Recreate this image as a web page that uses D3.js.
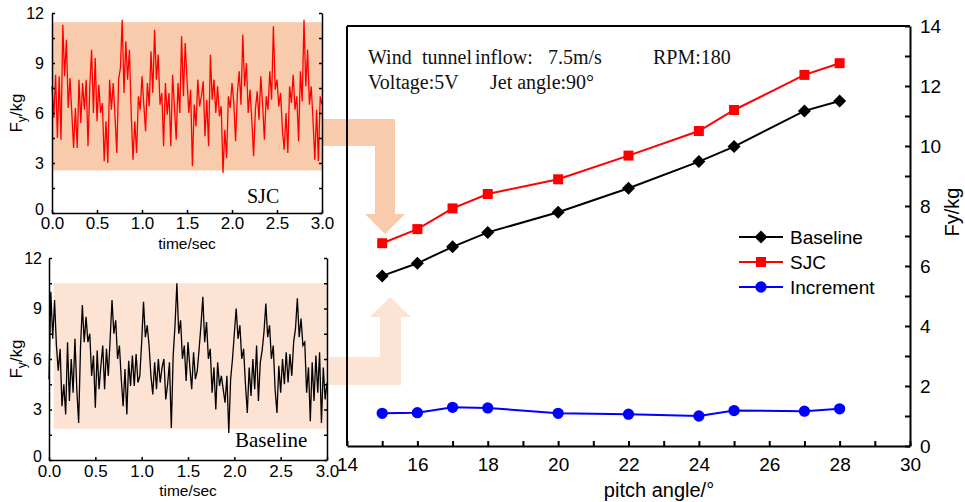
<!DOCTYPE html>
<html>
<head>
<meta charset="utf-8">
<script src="https://cdn.jsdelivr.net/npm/d3@7"></script>
<style>
  body { margin: 0; background: #fff; }
  svg { display: block; }
</style>
</head>
<body>
<div id="container"></div>
<script>
// main chart: lift force vs pitch angle
const pitchAngles = [15, 16, 17, 18, 20, 22, 24, 25, 27, 28];
const baselineFy = [5.67, 6.09, 6.64, 7.12, 7.79, 8.59, 9.48, 9.98, 11.17, 11.5];
const sjcFy = [6.76, 7.23, 7.92, 8.4, 8.89, 9.68, 10.5, 11.2, 12.37, 12.76];
const incrementFy = [1.09, 1.11, 1.29, 1.27, 1.09, 1.06, 1.0, 1.18, 1.16, 1.24];

const pitchTickLabels = [14, 16, 18, 20, 22, 24, 26, 28, 30];
const fyTickLabels = [0, 2, 4, 6, 8, 10, 12, 14];

// inset time series (sampled every 0.02 s, 0..3 s)
const timeStep = 0.02;
const sjcSignal = [7.6, 5.7, 8.3, 4.5, 8.2, 4.4, 11.3, 8.2, 10.4, 6.3,
  8.1, 6.0, 3.9, 6.3, 3.9, 8.0, 5.4, 7.8, 6.2, 8.0,
  4.0, 7.6, 9.8, 6.0, 9.3, 5.5, 7.7, 6.0, 6.6, 3.1,
  5.5, 3.0, 8.0, 6.2, 7.8, 5.8, 3.6, 8.0, 8.7, 11.6,
  7.2, 10.3, 8.0, 9.8, 6.0, 3.2, 5.5, 3.6, 7.0, 6.2,
  8.2, 6.5, 4.9, 7.8, 6.4, 9.7, 7.2, 11.0, 8.0, 9.5,
  6.5, 7.2, 4.0, 7.8, 5.9, 7.2, 4.0, 8.3, 6.4, 4.4,
  7.8, 6.0, 10.6, 7.0, 10.2, 8.0, 6.0, 7.4, 2.8, 6.5,
  5.2, 8.0, 6.4, 7.0, 7.9, 4.6, 6.8, 4.0, 9.5, 6.8,
  8.0, 6.0, 7.6, 5.8, 6.4, 2.4, 5.0, 3.3, 7.0, 6.3,
  7.8, 6.6, 4.3, 7.2, 8.5, 6.5, 10.7, 7.6, 9.0, 6.0,
  7.4, 5.6, 3.4, 6.2, 7.3, 5.6, 8.2, 6.5, 4.4, 7.0,
  6.2, 8.5, 6.8, 11.2, 7.4, 8.0, 6.4, 7.2, 5.0, 3.8,
  6.0, 3.6, 7.6, 6.6, 8.3, 6.2, 7.0, 4.3, 8.5, 6.7,
  11.6, 7.6, 9.8, 6.5, 7.6, 5.6, 3.2, 6.2, 3.1, 7.0,
  6.5];
const baselineSignal = [4.8, 10.0, 7.2, 9.5, 6.8, 5.3, 6.6, 3.2, 4.5, 2.7,
  7.0, 3.5, 6.0, 4.0, 7.2, 4.2, 2.2, 6.7, 9.2, 7.0,
  8.5, 7.0, 7.5, 5.0, 6.2, 3.1, 6.5, 4.2, 5.6, 6.8,
  4.2, 6.6, 5.0, 7.2, 9.5, 7.5, 8.3, 6.0, 6.8, 4.8,
  3.2, 5.4, 2.7, 5.9, 4.4, 6.2, 4.4, 6.3, 4.6, 5.0,
  7.0, 9.4, 7.3, 8.0, 6.8, 5.0, 3.9, 5.8, 4.2, 6.0,
  4.6, 5.5, 6.0, 3.6, 4.5, 5.8, 1.9, 6.2, 8.0, 10.5,
  7.5, 8.3, 6.0, 6.8, 4.7, 7.0, 5.5, 4.2, 6.4, 4.8,
  5.3, 6.6, 8.0, 9.7, 7.0, 8.2, 6.0, 6.6, 4.0, 5.5,
  3.0, 5.8, 4.4, 5.0, 4.2, 3.4, 5.0, 1.6, 4.8, 6.0,
  7.5, 9.0, 7.2, 8.0, 6.0, 6.6, 4.5, 2.8, 5.5, 3.8,
  6.0, 4.2, 6.8, 3.5, 5.8, 6.5, 7.6, 9.3, 7.3, 8.0,
  6.0, 6.8, 4.2, 2.8, 5.6, 4.0, 6.0, 4.5, 6.4, 4.6,
  6.3, 5.0, 7.0, 7.8, 9.6, 7.3, 8.4, 6.8, 7.0, 4.0,
  5.5, 2.3, 5.8, 3.5, 6.2, 4.0, 6.4, 2.2, 5.5, 3.6,
  4.6];
// fluctuation range shaded behind each signal
const sjcBand = [2.55, 11.45];
const baselineBand = [1.85, 10.5];
const timeTickLabels = [0, 0.5, 1, 1.5, 2, 2.5, 3];
const insetFyTickLabels = [0, 3, 6, 9, 12];

const SANS = "'Liberation Sans', Arial, sans-serif";
const SERIF = "'Liberation Serif', 'Times New Roman', serif";

const svg = d3.select("#container").append("svg")
  .attr("width", 965)
  .attr("height", 502);

function styleAxis(g, fontSize, width) {
  g.attr("font-family", SANS).attr("font-size", fontSize);
  g.selectAll("path.domain").attr("stroke", "#000").attr("stroke-width", width);
  g.selectAll(".tick line").attr("stroke", "#000").attr("stroke-width", width);
  g.selectAll(".tick text").attr("fill", "#000");
}

function drawArrows() {
  // arrow from SJC inset into the chart (pointing down)
  svg.append("path")
    .attr("d", "M323,119 L395,119 L395,214 L405,214 L385,234 L365,214 L375,214 L375,146 L323,146 Z")
    .attr("fill", "#f7cbab");
  // arrow from Baseline inset (pointing up)
  svg.append("path")
    .attr("d", "M329,357 L380,357 L380,317 L370,317 L390,297 L411,317 L401,317 L401,385 L329,385 Z")
    .attr("fill", "#fce3d4");
}

function drawInset(opt) {
  const x = d3.scaleLinear().domain([0, 3]).range([opt.left, opt.right]);
  const y = d3.scaleLinear().domain([0, 12]).range([opt.bottom, opt.top]);

  svg.append("rect")
    .attr("x", x(opt.bandStart))
    .attr("y", y(opt.band[1]))
    .attr("width", x(3) + 1 - x(opt.bandStart))
    .attr("height", y(opt.band[0]) - y(opt.band[1]))
    .attr("fill", opt.bandColor);

  const line = d3.line()
    .x((d, i) => x(i * timeStep))
    .y(d => y(d));

  svg.append("path")
    .datum(opt.signal)
    .attr("d", line)
    .attr("fill", "none")
    .attr("stroke", opt.color)
    .attr("stroke-width", 1.3);

  const yTicks = d3.range(0, 12.01, 1.5);
  const left = svg.append("g")
    .attr("transform", `translate(${opt.left},0)`)
    .call(d3.axisLeft(y).tickValues(yTicks).tickSize(-3).tickSizeOuter(0).tickPadding(opt.yPad)
      .tickFormat(d => insetFyTickLabels.includes(d) ? d : ""));
  styleAxis(left, 16, 1.5);
  // lift the "0" label a little so it clears the time labels
  left.selectAll(".tick text").filter(d => d === 0).attr("dy", "0.1em");

  const right = svg.append("g")
    .attr("transform", `translate(${opt.right},0)`)
    .call(d3.axisRight(y).tickValues(yTicks).tickSize(-3).tickSizeOuter(0).tickFormat(""));
  styleAxis(right, 16, 1.5);

  const bottom = svg.append("g")
    .attr("transform", `translate(0,${opt.bottom})`)
    .call(d3.axisBottom(x).tickValues(timeTickLabels).tickSize(-3).tickSizeOuter(0).tickPadding(opt.xPad)
      .tickFormat(d3.format(".1f")));
  styleAxis(bottom, 17, 1.5);

  svg.append("text")
    .attr("x", (opt.left + opt.right) / 2)
    .attr("y", opt.bottom + 36)
    .attr("text-anchor", "middle")
    .attr("font-family", SANS)
    .attr("font-size", 15.5)
    .text("time/sec");

  const yl = svg.append("text")
    .attr("transform", `translate(${opt.yLabelX},${(opt.top + opt.bottom) / 2}) rotate(-90)`)
    .attr("text-anchor", "middle")
    .attr("font-family", SANS)
    .attr("font-size", 17);
  yl.append("tspan").text("F");
  yl.append("tspan").attr("font-size", 12).attr("dy", 4).text("y");
  yl.append("tspan").attr("dy", -4).text("/kg");

  svg.append("text")
    .attr("x", opt.labelX)
    .attr("y", opt.labelY)
    .attr("font-family", SERIF)
    .attr("font-size", opt.labelSize)
    .text(opt.label);
}

function drawMain() {
  const x = d3.scaleLinear().domain([14, 30]).range([347, 910]);
  const y = d3.scaleLinear().domain([0, 14]).range([446, 26]);

  // left and top frame lines
  svg.append("line")
    .attr("x1", x(14)).attr("x2", x(14))
    .attr("y1", y(0)).attr("y2", y(14))
    .attr("stroke", "#000").attr("stroke-width", 2);
  svg.append("line")
    .attr("x1", x(14)).attr("x2", x(30))
    .attr("y1", y(14)).attr("y2", y(14))
    .attr("stroke", "#000").attr("stroke-width", 2);

  const xAxis = svg.append("g")
    .attr("transform", `translate(0,${y(0)})`)
    .call(d3.axisBottom(x).tickValues(d3.range(14, 31)).tickSize(-5).tickSizeOuter(0).tickPadding(12)
      .tickFormat(d => pitchTickLabels.includes(d) ? d : ""));
  styleAxis(xAxis, 19, 2);

  const yAxis = svg.append("g")
    .attr("transform", `translate(${x(30)},0)`)
    .call(d3.axisRight(y).tickValues(d3.range(0, 15)).tickSize(-5).tickSizeOuter(0).tickPadding(10)
      .tickFormat(d => fyTickLabels.includes(d) ? d : ""));
  styleAxis(yAxis, 19, 2);

  svg.append("text")
    .attr("x", 659)
    .attr("y", 497)
    .attr("text-anchor", "middle")
    .attr("font-family", SANS)
    .attr("font-size", 20)
    .text("pitch angle/°");

  svg.append("text")
    .attr("transform", "translate(952,212) rotate(-90)")
    .attr("text-anchor", "middle")
    .attr("dy", "0.35em")
    .attr("font-family", SANS)
    .attr("font-size", 20)
    .text("Fy/kg");

  const series = [
    { name: "Baseline", values: baselineFy, color: "#000000", symbol: d3.symbolSquare, size: 85, rotate: 45 },
    { name: "SJC", values: sjcFy, color: "#ff0000", symbol: d3.symbolSquare, size: 100, rotate: 0 },
    { name: "Increment", values: incrementFy, color: "#0000ff", symbol: d3.symbolCircle, size: 100, rotate: 0 }
  ];

  const line = d3.line()
    .x((d, i) => x(pitchAngles[i]))
    .y(d => y(d));

  for (let s of series) {
    svg.append("path")
      .datum(s.values)
      .attr("d", line)
      .attr("fill", "none")
      .attr("stroke", s.color)
      .attr("stroke-width", 2);

    svg.selectAll(null)
      .data(s.values)
      .enter()
      .append("path")
      .attr("d", d3.symbol().type(s.symbol).size(s.size))
      .attr("transform", (d, i) => `translate(${x(pitchAngles[i])},${y(d)}) rotate(${s.rotate})`)
      .attr("fill", s.color);
  }

  // legend
  series.forEach((s, i) => {
    const ly = 237 + i * 25;
    svg.append("line")
      .attr("x1", 739).attr("x2", 783)
      .attr("y1", ly).attr("y2", ly)
      .attr("stroke", s.color).attr("stroke-width", 2);
    svg.append("path")
      .attr("d", d3.symbol().type(s.symbol).size(s.size))
      .attr("transform", `translate(761,${ly}) rotate(${s.rotate})`)
      .attr("fill", s.color);
    svg.append("text")
      .attr("x", 790)
      .attr("y", ly)
      .attr("dy", "0.35em")
      .attr("font-family", SANS)
      .attr("font-size", 19)
      .text(s.name);
  });

  // test conditions
  const notes = [
    { text: "Wind", x: 368, y: 64 },
    { text: "tunnel", x: 422, y: 64 },
    { text: "inflow:", x: 475, y: 64 },
    { text: "7.5m/s", x: 548, y: 64 },
    { text: "RPM:180", x: 653, y: 64 },
    { text: "Voltage:5V", x: 368, y: 89 },
    { text: "Jet angle:90°", x: 490, y: 89 }
  ];
  for (let n of notes) {
    svg.append("text")
      .attr("x", n.x)
      .attr("y", n.y)
      .attr("font-family", SERIF)
      .attr("font-size", 20)
      .attr("fill", "#111")
      .text(n.text);
  }
}

drawArrows();

drawInset({
  left: 52, right: 322, top: 13, bottom: 213,
  signal: sjcSignal, color: "#ff0000",
  band: sjcBand, bandStart: 0, bandColor: "#f7cbab",
  yPad: 8, xPad: 4, yLabelX: 22,
  label: "SJC", labelX: 247, labelY: 203, labelSize: 20
});

drawInset({
  left: 49, right: 327, top: 258, bottom: 460,
  signal: baselineSignal, color: "#000000",
  band: baselineBand, bandStart: 0.05, bandColor: "#fce3d4",
  yPad: 7, xPad: 5, yLabelX: 22,
  label: "Baseline", labelX: 235, labelY: 447, labelSize: 21
});

drawMain();
</script>
</body>
</html>
